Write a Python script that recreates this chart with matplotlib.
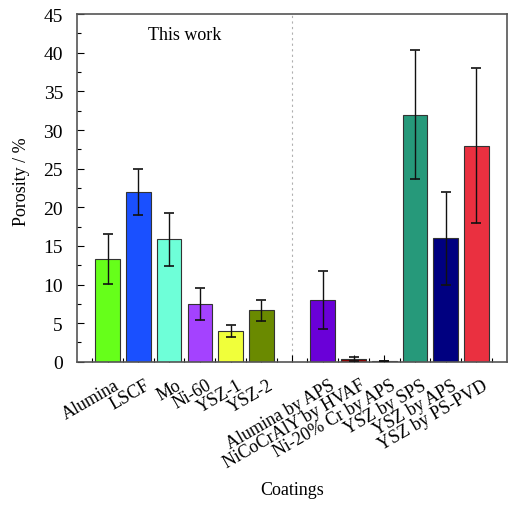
import matplotlib
matplotlib.use("Agg")
import matplotlib.pyplot as plt
from matplotlib.ticker import MultipleLocator
from matplotlib.transforms import ScaledTranslation

categories = ["Alumina", "LSCF", "Mo", "Ni-60", "YSZ-1", "YSZ-2",
              "Alumina by APS", "NiCoCrAlY by HVAF", "Ni-20% Cr by APS",
              "YSZ by SPS", "YSZ by APS", "YSZ by PS-PVD"]
porosity = [13.3, 22.0, 15.85, 7.5, 4.0, 6.65, 8.0, 0.4, 0.1, 32.0, 16.0, 28.0]
errors = [3.2, 3.0, 3.45, 2.1, 0.8, 1.35, 3.75, 0.25, 0.0, 8.3, 6.0, 10.0]
colors = ["#66ff1a", "#1a50ff", "#6effd8", "#a442ff", "#f0ff3a", "#6a8a00",
          "#6a00d8", "#8b0000", "#202020", "#26997a", "#000080", "#ea3040"]
positions = [0, 1, 2, 3, 4, 5, 7, 8, 9, 10, 11, 12]
gap_position = 6

plt.rcParams['font.family'] = ['Liberation Serif', 'DejaVu Serif']

fig = plt.figure(figsize=(5.16, 5.06), dpi=100)
ax = fig.add_axes([0.149, 0.283, 0.834, 0.687])

ax.bar(positions, porosity, width=0.8, color=colors, edgecolor="#333333",
       linewidth=0.8, zorder=2)
ax.errorbar(positions, porosity, yerr=errors, fmt='none', ecolor='#111111',
            elinewidth=1.0, capsize=3.5, capthick=1.2, zorder=3)

ax.axvline(gap_position, color='#b0b0b0', linestyle=(0, (2, 3)), linewidth=0.8, zorder=1)

ax.set_xlim(-1, 13)
ax.set_ylim(0, 45)
ax.yaxis.set_major_locator(MultipleLocator(5))
ax.yaxis.set_minor_locator(MultipleLocator(2.5))
ax.set_xticks(positions + [gap_position])
ax.set_xticklabels(categories + [""], rotation=30, ha='right',
                   rotation_mode='anchor', fontsize=13)
ax.set_xticks([p + 0.5 for p in range(-1, 13)], minor=True)
ax.tick_params(axis='both', which='both', direction='in', top=False, right=False)
ax.tick_params(axis='both', which='major', length=5, width=0.8)
ax.tick_params(axis='both', which='minor', length=3, width=0.8)
ax.tick_params(axis='y', labelsize=14, pad=10)
ax.tick_params(axis='x', pad=4)

offset = ScaledTranslation(6 / 100, -9 / 100, fig.dpi_scale_trans)
for lbl in ax.get_xticklabels():
    lbl.set_transform(lbl.get_transform() + offset)

for s in ax.spines.values():
    s.set_linewidth(1.2)
    s.set_color('#555555')

ax.text(2.5, 42.4, "This work", ha='center', va='center', fontsize=13)
ax.set_ylabel("Porosity / %", fontsize=13)
ax.yaxis.set_label_coords(-0.11, 0.52)
ax.set_xlabel("Coatings", fontsize=13)
ax.xaxis.set_label_coords(0.5, -0.343)

fig.savefig("out.png", dpi=100)
